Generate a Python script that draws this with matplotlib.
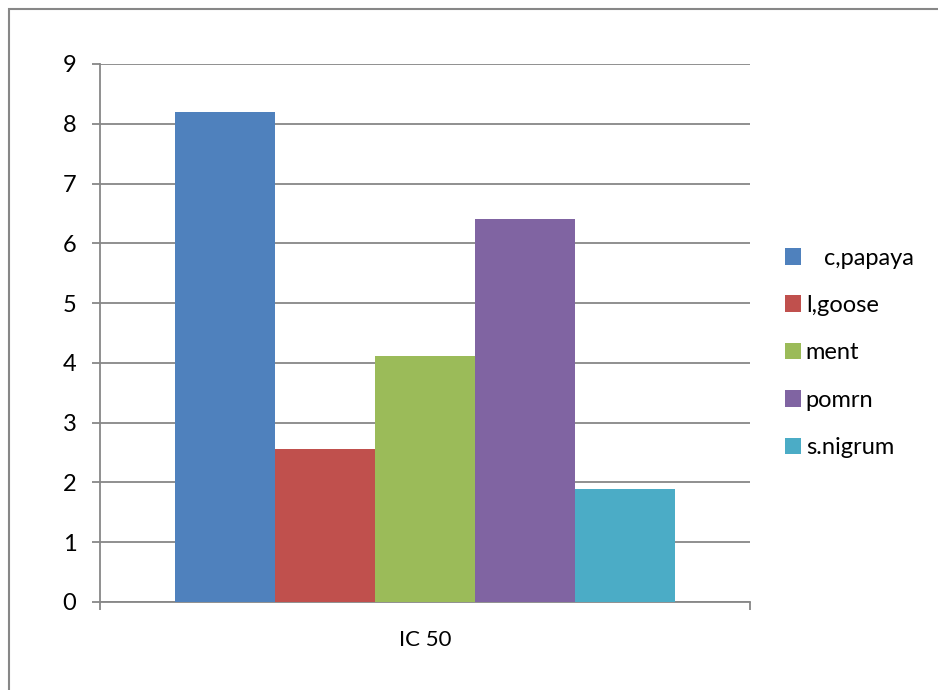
import matplotlib.pyplot as plt
from matplotlib.patches import Patch, Rectangle

plt.rcParams['font.family'] = ['Lato', 'DejaVu Sans']

category = 'IC 50'
names = ['c,papaya', 'l,goose', 'ment', 'pomrn', 's.nigrum']
legend_labels = ['   c,papaya', 'l,goose', 'ment', 'pomrn', 's.nigrum']
values = [8.2, 2.56, 4.11, 6.4, 1.89]
colors = ['#4F81BD', '#C0504D', '#9BBB59', '#8064A2', '#4BACC6']
yticks = [0, 1, 2, 3, 4, 5, 6, 7, 8, 9]

grey = '#878787'

fig = plt.figure(figsize=(9.38, 6.90), dpi=100)
ax = fig.add_axes([100 / 938, 1 - 602 / 690, 650 / 938, 538 / 690])

xpos = list(range(len(values)))
ax.bar(xpos, values, width=1.0, color=colors, zorder=3)

ax.set_xlim(-1.25, 5.25)
ax.set_ylim(0, 9)
ax.set_yticks(yticks)
ax.yaxis.grid(True, color=grey, linewidth=1.3, zorder=0)
ax.tick_params(axis='y', length=6, width=1.3, color=grey, pad=11, labelsize=17)

# category label in the middle, tick marks only at the two ends
ax.set_xticks([2])
ax.set_xticklabels([category])
ax.tick_params(axis='x', which='major', length=0, pad=20, labelsize=16)
ax.set_xticks([-1.25, 5.25], minor=True)
ax.tick_params(axis='x', which='minor', length=6, width=1.3, color=grey)

for s in ['top', 'right']:
    ax.spines[s].set_visible(False)
for s in ['left', 'bottom']:
    ax.spines[s].set_color(grey)
    ax.spines[s].set_linewidth(1.3)

handles = [Patch(facecolor=c, edgecolor='none') for c in colors]
ax.legend(handles, legend_labels, loc='center left', bbox_to_anchor=(1.035, 0.463),
          frameon=False, fontsize=17, handlelength=0.7, handleheight=0.7,
          handletextpad=0.2, labelspacing=1.12, borderpad=0)

# outer chart frame
fig.patches.append(Rectangle((9 / 938, -0.1), 1.2, 1.1 - 9 / 690,
                             transform=fig.transFigure, fill=False,
                             edgecolor=grey, linewidth=1.5))

fig.savefig('out.png', dpi=100)
